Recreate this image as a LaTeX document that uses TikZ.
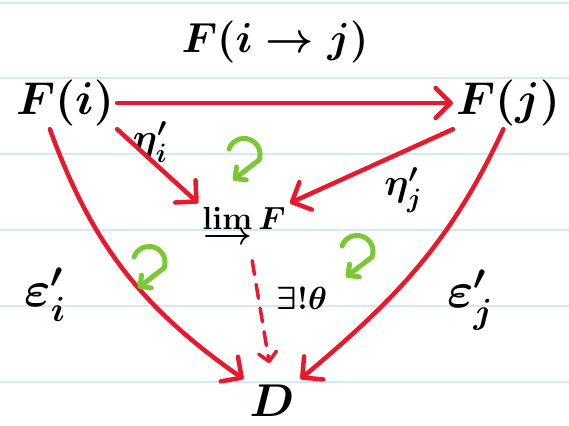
\RequirePackage{fix-cm}
\documentclass[tikz,border=0pt]{standalone}
\usetikzlibrary{arrows.meta}
\usepackage{amsmath}
\definecolor{hred}{HTML}{E8192C}
\definecolor{hgreen}{HTML}{7CC832}
\definecolor{hblue}{HTML}{CFE9F9}
\begin{document}
\begin{tikzpicture}[x=1pt,y=1pt,
  obj/.style={font=\fontsize{46}{50}\selectfont\boldmath, inner sep=3pt},
  mor/.style={draw=hred, line width=4.5pt, line cap=round,
    -{Straight Barb[length=15pt,width=30pt,line cap=round,line join=round]}},
  dmor/.style={draw=hred, line width=3.5pt, line cap=round, dash pattern=on 14pt off 10pt,
    -{Straight Barb[length=9pt,width=18pt,line cap=round,line join=round]}},
  lab/.style={font=\fontsize{50}{54}\selectfont\boldmath, inner sep=1pt},
  slab/.style={font=\fontsize{38}{42}\selectfont\boldmath, inner sep=1pt},
  rot/.style={draw=hgreen, line width=5pt, line cap=round,
    -{Straight Barb[length=8pt,width=16pt,line cap=round,line join=round]}},
  ruled/.style={draw=hblue, line width=1.5pt}]
\fill[white] (0,0) rectangle (569,425);
\useasboundingbox (0,0) rectangle (569,425);
\foreach \yy in {422,347,271,195,119,43} \draw[ruled] (0,\yy) -- (569,\yy);

\node[obj] (Fi) at (65,322) {$F(i)$};
\node[obj] (Fj) at (508,322) {$F(j)$};
\node[font=\fontsize{32}{36}\selectfont\boldmath, inner sep=4pt] (lim) at (244,200) {$\varinjlim F$};
\node[obj, inner sep=6pt] (D) at (272,24) {$D$};

\node[font=\fontsize{42}{46}\selectfont\boldmath, inner sep=1pt] (Fij) at (275,383) {$F(i\to j)$};
\node[slab] (etai) at (150,283) {$\eta'_i$};
\node[slab] (etaj) at (403,235) {$\eta'_j$};
\node[lab] (epsi) at (45,130) {$\varepsilon'_i$};
\node[lab] (epsj) at (470,125) {$\varepsilon'_j$};
\node[font=\fontsize{32}{36}\selectfont\boldmath, inner sep=1pt] (ex) at (302,127) {$\exists!\theta$};

\draw[mor] (Fi.east) -- (Fj.west);
\draw[mor] (Fi.south east) -- (lim.north west);
\draw[mor] (Fj.south west) -- (lim.north east);
\draw[mor] (Fi.240) to[out=-70,in=145] (D.north west);
\draw[mor] (Fj.-100) to[out=-115,in=40] (D.north east);
\draw[dmor, shorten <=14pt, shorten >=16pt] (lim.-75) -- (D.north);

\foreach \cx/\cy in {243/270, 148/162, 356/173}
  \draw[rot] (\cx,\cy) ++(-14,6) arc (160:-20:16) -- ++(-26,-20);
\end{tikzpicture}
\end{document}
